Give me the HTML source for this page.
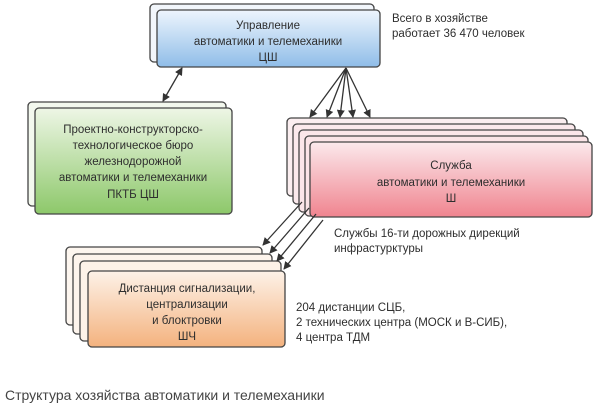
<!DOCTYPE html>
<html><head><meta charset="utf-8"><style>
html,body{margin:0;padding:0;background:#fff;}
svg{display:block}
text{font-family:"Liberation Sans",sans-serif;fill:#2e2e2e;}
</style></head><body>
<svg width="600" height="419" viewBox="0 0 600 419" xmlns="http://www.w3.org/2000/svg">
<defs>
<linearGradient id="gb" x1="0" y1="0" x2="0" y2="1"><stop offset="0" stop-color="#eef5fd"/><stop offset="1" stop-color="#8fbde8"/></linearGradient>
<linearGradient id="gg" x1="0" y1="0" x2="0" y2="1"><stop offset="0" stop-color="#eef6e6"/><stop offset="1" stop-color="#8dc86a"/></linearGradient>
<linearGradient id="gp" x1="0" y1="0" x2="0" y2="1"><stop offset="0" stop-color="#fbe9ec"/><stop offset="1" stop-color="#f0848f"/></linearGradient>
<linearGradient id="go" x1="0" y1="0" x2="0" y2="1"><stop offset="0" stop-color="#fdf2e8"/><stop offset="1" stop-color="#f4b27e"/></linearGradient>
<marker id="ah" markerWidth="8" markerHeight="8" refX="7" refY="4" orient="auto" markerUnits="userSpaceOnUse"><path d="M0,0 L8,4 L0,8 Z" fill="#333"/></marker>
<marker id="as" markerWidth="8" markerHeight="8" refX="1" refY="4" orient="auto" markerUnits="userSpaceOnUse"><path d="M8,0 L0,4 L8,8 Z" fill="#333"/></marker>
</defs>
<g stroke="#444" stroke-width="1.3">
<rect x="150" y="4" width="224" height="58" rx="4" fill="#f2f6fb"/>
<rect x="157" y="10" width="223" height="57" rx="4" fill="url(#gb)"/>
<rect x="28" y="102" width="198" height="104" rx="4" fill="#f3f8ee"/>
<rect x="35" y="108" width="197" height="106" rx="4" fill="url(#gg)"/>
<rect x="287" y="118" width="280" height="78" rx="4" fill="#fbeef0"/>
<rect x="293" y="124" width="282" height="80" rx="4" fill="#fbe9ec"/>
<rect x="299" y="130" width="284" height="82" rx="4" fill="#fbe6e9"/>
<rect x="305" y="136" width="283" height="80" rx="4" fill="#fbe4e7"/>
<rect x="310" y="142" width="282" height="75" rx="4" fill="url(#gp)"/>
<rect x="66" y="247" width="196" height="78" rx="4" fill="#fdf6ef"/>
<rect x="73" y="254" width="199" height="80" rx="4" fill="#fdf4ec"/>
<rect x="80" y="261" width="201" height="80" rx="4" fill="#fdf2e8"/>
<rect x="88" y="271" width="197" height="76" rx="4" fill="url(#go)"/>
</g>
<g stroke="#333" stroke-width="1.3" fill="none">
<line x1="182" y1="68" x2="163" y2="101" marker-start="url(#as)" marker-end="url(#ah)"/>
<line x1="346" y1="68" x2="310" y2="117" marker-end="url(#ah)"/>
<line x1="346" y1="68" x2="327" y2="117" marker-end="url(#ah)"/>
<line x1="346" y1="68" x2="340" y2="117" marker-end="url(#ah)"/>
<line x1="346" y1="68" x2="353" y2="117" marker-end="url(#ah)"/>
<line x1="346" y1="68" x2="370" y2="117" marker-end="url(#ah)"/>
<line x1="302" y1="202" x2="263" y2="245" marker-end="url(#ah)"/>
<line x1="309" y1="208" x2="270" y2="253" marker-end="url(#ah)"/>
<line x1="316" y1="214" x2="277" y2="261" marker-end="url(#ah)"/>
<line x1="323" y1="220" x2="284" y2="269" marker-end="url(#ah)"/>
</g>
<g font-size="11.5" text-anchor="middle">
<text x="268" y="29">Управление</text>
<text x="268" y="45">автоматики и телемеханики</text>
<text x="268" y="61">ЦШ</text>
<text x="133" y="133">Проектно-конструкторско-</text>
<text x="133" y="149">технологическое бюро</text>
<text x="133" y="165">железнодорожной</text>
<text x="133" y="181">автоматики и телемеханики</text>
<text x="133" y="198">ПКТБ ЦШ</text>
<text x="451" y="169">Служба</text>
<text x="451" y="186">автоматики и телемеханики</text>
<text x="451" y="202">Ш</text>
<text x="187" y="292">Дистанция сигнализации,</text>
<text x="187" y="308">централизации</text>
<text x="187" y="324">и блоктровки</text>
<text x="187" y="340">ШЧ</text>
</g>
<g font-size="11.5">
<text x="392" y="22">Всего в хозяйстве</text>
<text x="392" y="37">работает 36 470 человек</text>
<text x="334" y="237">Службы 16-ти дорожных дирекций</text>
<text x="334" y="252">инфрастурктуры</text>
<text x="296" y="311">204 дистанции СЦБ,</text>
<text x="296" y="326">2 технических центра (МОСК и В-СИБ),</text>
<text x="296" y="341">4 центра ТДМ</text>
</g>
<text x="5" y="400" font-size="14" style="fill:#444">Структура хозяйства автоматики и телемеханики</text>
</svg>
</body></html>
